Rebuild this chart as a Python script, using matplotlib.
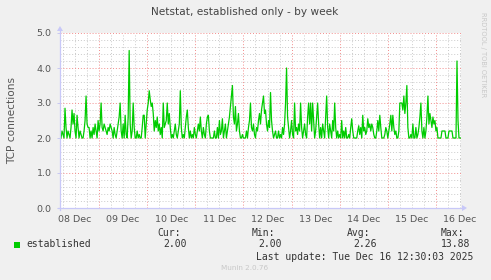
import matplotlib
matplotlib.use("Agg")
import matplotlib.pyplot as plt
import numpy as np

# ---- data -------------------------------------------------------------
title = "Netstat, established only - by week"
ylabel = "TCP connections"
day_labels = ["08 Dec", "09 Dec", "10 Dec", "11 Dec", "12 Dec",
              "13 Dec", "14 Dec", "15 Dec", "16 Dec"]
series_name = "established"
stat_names = ["Cur:", "Min:", "Avg:", "Max:"]
stat_values = ["2.00", "2.00", "2.26", "13.88"]
last_update = "Last update: Tue Dec 16 12:30:03 2025"
credit = "Munin 2.0.76"
side_text = "RRDTOOL / TOBI OETIKER"

# half-hourly samples, first sample at 08 Dec 05:00 (hours since 08 Dec 00:00)
t_start_hours = 5.0
step_hours = 0.5
established = [
    2.0, 2.2, 2.1, 2.0, 2.85, 2.3, 2.0, 2.2, 2.1, 2.0, 2.3, 2.8, 2.4, 2.7, 2.2, 2.0, 2.65, 2.3, 2.0, 2.2,
    2.1, 2.0, 2.0, 2.2, 2.5, 3.2, 2.4, 2.3, 2.3, 2.0, 2.2, 2.0, 2.3, 2.1, 2.4, 2.2, 2.0, 2.5, 2.2, 2.4,
    3.0, 2.3, 2.2, 2.4, 2.3, 2.2, 2.1, 2.3, 2.2, 2.4, 2.3, 2.2, 2.0, 2.3, 2.1, 2.0, 2.2, 2.4, 2.6, 3.0,
    2.2, 2.0, 2.4, 2.0, 2.65, 2.1, 2.0, 2.6, 4.5, 2.4, 2.0, 2.2, 3.0, 2.3, 2.0, 2.0, 2.2, 2.0, 2.1, 2.0,
    2.0, 2.3, 2.65, 2.65, 2.0, 2.4, 2.8, 3.0, 3.35, 3.1, 2.9, 3.0, 2.7, 2.2, 2.5, 2.3, 2.6, 2.2, 2.4, 2.1,
    2.3, 2.0, 3.0, 2.3, 2.4, 2.5, 3.0, 2.4, 2.7, 2.3, 2.0, 2.1, 2.0, 2.2, 2.4, 2.1, 2.0, 2.2, 2.4, 3.35,
    2.3, 2.0, 2.1, 2.0, 2.3, 2.6, 2.8, 2.3, 2.0, 2.2, 2.0, 2.1, 2.0, 2.3, 2.1, 2.0, 2.2, 2.4, 2.2, 2.6,
    2.2, 2.0, 2.3, 2.1, 2.0, 2.4, 2.6, 2.65, 2.2, 2.0, 2.0, 2.0, 2.0, 2.2, 2.0, 2.0, 2.3, 2.0, 2.5, 2.1,
    2.2, 2.55, 2.0, 2.2, 2.4, 2.0, 2.2, 2.4, 2.6, 2.9, 3.2, 3.5, 2.6, 2.4, 2.9, 2.2, 2.4, 2.7, 2.2, 2.0,
    2.0, 2.1, 2.0, 2.0, 2.0, 2.2, 2.0, 2.3, 2.5, 3.0, 2.3, 2.2, 2.4, 2.1, 2.0, 2.3, 2.2, 2.5, 2.7, 2.4,
    2.8, 3.0, 3.2, 2.7, 2.8, 2.4, 2.2, 2.5, 2.3, 3.3, 2.5, 2.2, 2.0, 2.1, 2.2, 2.0, 2.0, 2.2, 2.0, 2.1,
    2.0, 2.3, 2.1, 2.4, 3.0, 4.0, 2.6, 2.3, 2.0, 2.2, 2.5, 2.1, 2.0, 3.0, 2.2, 2.3, 2.1, 2.4, 2.2, 3.0,
    2.3, 2.0, 2.2, 2.4, 2.1, 2.0, 2.6, 3.0, 2.4, 3.0, 2.2, 3.0, 2.5, 2.0, 2.2, 2.6, 3.0, 2.4, 2.0, 2.3,
    2.0, 2.4, 2.2, 2.0, 2.6, 3.2, 2.3, 2.0, 2.4, 2.2, 2.0, 2.5, 2.2, 3.0, 2.3, 2.0, 2.2, 2.0, 2.1, 2.0,
    2.5, 2.0, 2.2, 2.0, 2.3, 2.0, 2.0, 2.1, 2.0, 2.3, 2.55, 2.2, 2.0, 2.0, 2.0, 2.0, 2.2, 2.35, 2.1, 2.3,
    2.0, 2.65, 2.2, 2.3, 2.1, 2.2, 2.55, 2.3, 2.4, 2.2, 2.4, 2.3, 2.1, 2.0, 2.0, 2.2, 2.5, 2.2, 2.65, 2.3,
    2.0, 2.0, 2.0, 2.1, 2.3, 2.2, 2.0, 2.2, 2.4, 2.65, 2.2, 2.65, 2.3, 2.1, 2.2, 2.0, 2.0, 2.2, 3.0, 3.0,
    3.0, 2.8, 3.2, 2.7, 3.0, 3.5, 2.3, 2.0, 2.0, 2.1, 2.0, 2.4, 2.0, 2.0, 2.3, 2.0, 2.1, 2.3, 2.6, 3.0,
    2.2, 2.0, 2.3, 2.0, 2.2, 2.6, 3.2, 2.4, 2.7, 2.5, 2.3, 2.6, 2.4, 2.5, 2.2, 2.3, 2.0, 2.0, 2.0, 2.0,
    2.2, 2.2, 2.2, 2.2, 2.0, 2.0, 2.0, 2.2, 2.2, 2.2, 2.2, 2.0, 2.0, 2.0, 2.0, 4.2, 2.5, 2.0, 2.0, 2.0,
]
y_max = 5.0

# ---- figure -----------------------------------------------------------
W, H = 491, 280
fig = plt.figure(figsize=(W / 100, H / 100), dpi=100, facecolor="#F0F0F0")

def px(x, y):
    return x / W, 1 - y / H

L, R, T, B = 60, 461, 33, 208
ax = fig.add_axes([L / W, 1 - B / H, (R - L) / W, (B - T) / H])
ax.set_facecolor("white")

t = t_start_hours + step_hours * np.arange(len(established))
x0 = t[0] - step_hours
x1 = t[-1]
ax.set_xlim(x0, x1)
ax.set_ylim(0, y_max)

# grid
minor_x = np.arange(np.ceil(x0 / 6) * 6, x1 + 0.01, 6)
major_x = np.arange(np.ceil(x0 / 24) * 24, x1 + 0.01, 24)
dot = (0, (1, 2))
for xv in minor_x:
    if xv % 24 != 0:
        ax.axvline(xv, color="#CACACA", lw=0.7, ls=dot, zorder=1)
for yv in np.arange(0, y_max + 0.001, 0.2):
    if abs(yv - round(yv)) > 1e-6:
        ax.axhline(yv, color="#CACACA", lw=0.7, ls=dot, zorder=1)
for xv in major_x:
    ax.axvline(xv, color="#F28C8C", lw=0.7, ls=dot, zorder=1)
for yv in np.arange(1, y_max + 0.001, 1.0):
    ax.axhline(yv, color="#F28C8C", lw=0.7, ls=dot, zorder=1)

ax.plot(t, established, color="#00CC00", lw=0.9, zorder=3)

for s in ax.spines.values():
    s.set_visible(False)
ax.set_xticks([])
ax.set_yticks(np.arange(0, y_max + 0.001, 1.0))
ax.set_yticklabels([f"{v:.1f}" for v in np.arange(0, y_max + 0.001, 1.0)],
                   fontsize=6.8, color="#555555")
ax.tick_params(axis="y", length=2, width=0.7, color="#C8C8F0", pad=4)

# day labels at noon
for i, lab in enumerate(day_labels):
    xv = 12 + 24 * i
    ax.text(xv, -0.04, lab, transform=ax.get_xaxis_transform(),
            ha="center", va="top", fontsize=6.8, color="#555555")

# axes lines with arrows
axis_col = "#C8C8F8"
fig.add_artist(plt.Line2D([L / W, L / W], [1 - (B + 2) / H, 1 - 29 / H],
                          color=axis_col, lw=0.9))
fig.add_artist(plt.Line2D([(L - 2) / W, 464 / W], [1 - B / H, 1 - B / H],
                          color=axis_col, lw=0.9))
fig.add_artist(plt.Polygon([px(57, 31), px(63, 31), px(60, 26)],
                           closed=True, color=axis_col, lw=0))
fig.add_artist(plt.Polygon([px(462, 205), px(462, 211), px(467, 208)],
                           closed=True, color=axis_col, lw=0))

# texts
fig.text(*px(245, 12), title, ha="center", va="center", fontsize=7.6, color="#444444")
fig.text(*px(12, 120), ylabel, ha="center", va="center", rotation=90,
         fontsize=7.6, color="#555555")
fig.text(*px(483, 55), side_text, ha="center", va="center", rotation=270,
         fontsize=4.8, color="#C8C8C8")

mono = "DejaVu Sans Mono"
fs = 7.0
fig.add_artist(plt.Rectangle(px(14, 248), 6 / W, 6 / H, color="#00CC00", lw=0))
fig.text(*px(26, 244), series_name, ha="left", va="center", family=mono,
         fontsize=fs, color="#333333")
name_x = [157, 252, 347, 441]
val_x = [163, 258, 353, 441]
for nx, vx, n, v in zip(name_x, val_x, stat_names, stat_values):
    fig.text(*px(nx, 233), n, ha="left", va="center", family=mono,
             fontsize=fs, color="#333333")
    fig.text(*px(vx, 244), v, ha="left", va="center", family=mono,
             fontsize=fs, color="#333333")
fig.text(*px(256, 257), last_update, ha="left", va="center", family=mono,
         fontsize=fs, color="#333333")
fig.text(*px(245, 268), credit, ha="center", va="center",
         fontsize=5.2, color="#C8C8C8")

fig.savefig("out.png", dpi=100, facecolor=fig.get_facecolor())
